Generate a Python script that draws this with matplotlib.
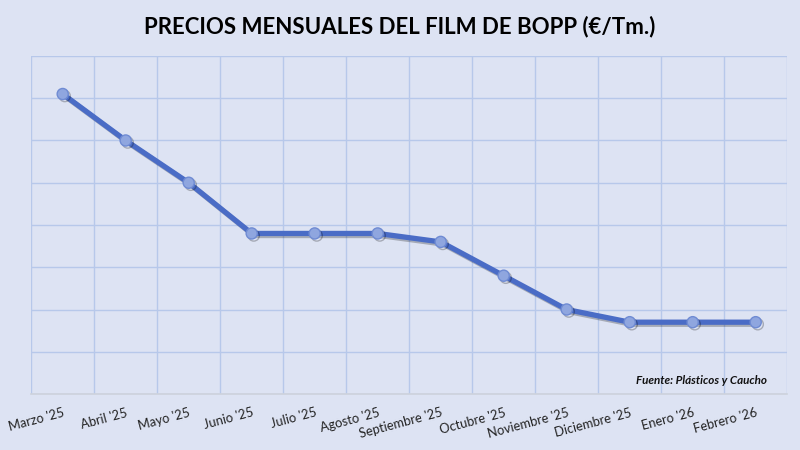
import numpy as np
import matplotlib.pyplot as plt
import matplotlib.patheffects as pe

# Monthly BOPP film prices (EUR/Tm) (axis has no labels)
months = ["Marzo '25", "Abril '25", "Mayo '25", "Junio '25", "Julio '25",
          "Agosto '25", "Septiembre '25", "Octubre '25", "Noviembre '25",
          "Diciembre '25", "Enero '26", "Febrero '26"]
prices = [1642, 1620, 1600, 1576, 1576, 1576, 1572, 1556, 1540, 1534, 1534, 1534]

bg = '#DDE3F3'
grid_col = '#B7C8EA'
line_col = '#4A6CC6'

plt.rcParams['font.family'] = ['Lato', 'DejaVu Sans']

fig = plt.figure(figsize=(8, 4.5), dpi=100, facecolor=bg)
ax = fig.add_axes([0.039, 0.1244, 0.945, 0.7512])
ax.set_facecolor(bg)

x = np.arange(len(months))
ax.plot(x, prices, color=line_col, lw=3.8, marker='o', ms=8,
        markerfacecolor='#8FA6DF', markeredgecolor='#6F8BD3', markeredgewidth=1,
        solid_capstyle='round', zorder=3,
        path_effects=[pe.SimpleLineShadow(offset=(1.5, -1.5), alpha=0.25), pe.Normal()])

ax.set_xlim(-0.5, len(months) - 0.5)
ax.set_ylim(1500, 1660)
ax.set_yticks(np.arange(1500, 1661, 20))
ax.set_yticklabels([])
ax.tick_params(axis='y', length=0)

ax.set_xticks(x)
ax.set_xticklabels(months, rotation=15, ha='right', va='top',
                   rotation_mode='anchor', fontsize=9.3, color='#222222')
ax.tick_params(axis='x', length=0, pad=9)
ax.set_xticks(np.arange(-0.5, len(months)), minor=True)
ax.tick_params(axis='x', which='minor', length=0)

ax.grid(True, axis='y', which='major', color=grid_col, lw=1)
ax.grid(True, axis='x', which='minor', color=grid_col, lw=1)
ax.set_axisbelow(True)

for s in ['top', 'right', 'left']:
    ax.spines[s].set_visible(False)
ax.spines['bottom'].set_color('#CDD2DC')
ax.spines['bottom'].set_linewidth(1.2)

fig.text(0.5, 0.942, 'PRECIOS MENSUALES DEL FILM DE BOPP (€/Tm.)',
         ha='center', va='center', fontsize=16, fontweight='bold', color='black')
ax.text(0.973, 0.04, 'Fuente: Plásticos y Caucho', transform=ax.transAxes,
        ha='right', va='center', fontsize=8.4, fontweight='bold', style='italic',
        color='#111111')

fig.savefig('out.png', dpi=100, facecolor=bg)
